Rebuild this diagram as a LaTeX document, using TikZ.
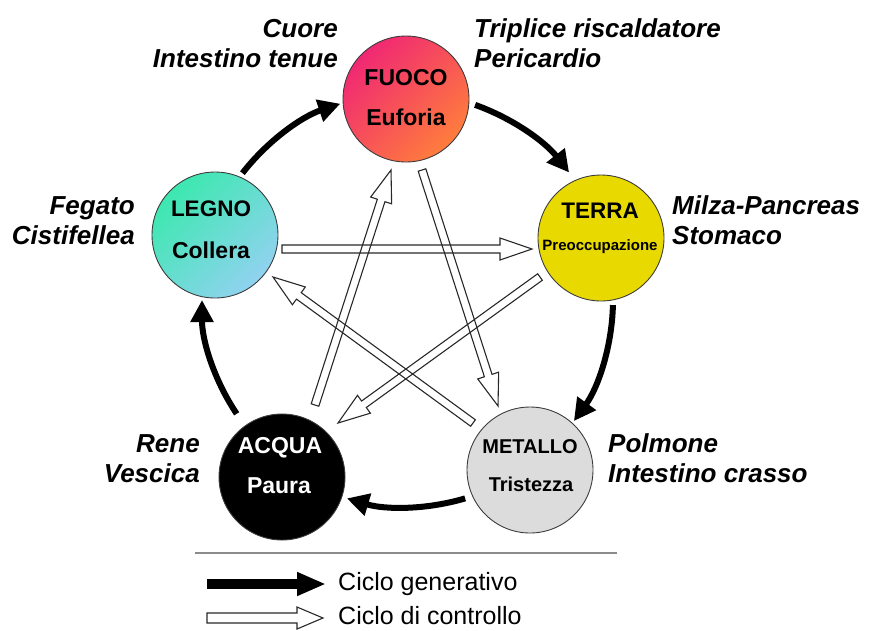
\documentclass[tikz,border=0pt]{standalone}
\usepackage{fontspec}
\setmainfont{Liberation Sans}
\usetikzlibrary{arrows.meta,calc}
\definecolor{fuocoA}{RGB}{240,40,115}
\definecolor{fuocoB}{RGB}{255,125,60}
\definecolor{legnoA}{RGB}{60,232,175}
\definecolor{legnoB}{RGB}{145,210,240}
\definecolor{terraC}{RGB}{232,218,0}
\definecolor{metalloC}{RGB}{220,220,220}
\definecolor{rimC}{RGB}{60,60,60}
\definecolor{ctrlC}{RGB}{40,40,40}
\definecolor{ruleC}{RGB}{140,140,140}
\newcommand\ctrlarrow[5]{%
  \draw[ctrl] ($(#1)!#3!90:(#2)$) -- ($(#2)!#5!(#1)!#3!-90:(#1)$) -- ($(#2)!#5!(#1)!#4!-90:(#1)$) -- (#2) -- ($(#2)!#5!(#1)!#4!90:(#1)$) -- ($(#2)!#5!(#1)!#3!90:(#1)$) -- ($(#1)!#3!-90:(#2)$) -- cycle;}
\begin{document}
\begin{tikzpicture}[x=1pt,y=1pt,
  elem/.style={circle, draw=rimC, line width=0.9pt, minimum size=126pt, inner sep=0pt},
  etext/.style={font=\bfseries\fontsize{#1}{#1}\selectfont, inner sep=0pt, text height=0.72em, text depth=0pt},
  lab/.style={font=\bfseries\itshape\fontsize{26}{30}\selectfont, inner sep=0pt},
  legtext/.style={font=\fontsize{25}{30}\selectfont, inner sep=0pt, anchor=base west},
  gen/.style={line width=6pt, -{Triangle[length=22pt,width=22pt]}},
  ctrl/.style={draw=ctrlC, line width=1.1pt, line join=miter}]
\useasboundingbox (0,0) rectangle (869,-630);

% elements
\node[elem, top color=fuocoA, bottom color=fuocoB, shading angle=45] (fuoco) at (406,-99) {};
\node[elem, top color=legnoA, bottom color=legnoB, shading angle=45] (legno) at (215,-235) {};
\node[elem, fill=terraC] (terra) at (601,-238) {};
\node[elem, fill=metalloC] (metallo) at (530,-470) {};
\node[elem, fill=black] (acqua) at (282,-477) {};

\node[etext=23] (t1) at (406,-82) {FUOCO};
\node[etext=23] (t2) at (406,-122) {Euforia};
\node[etext=22.5] (t3) at (211,-213) {LEGNO};
\node[etext=23] (t4) at (211,-255) {Collera};
\node[etext=22.5] (t5) at (600,-215) {TERRA};
\node[etext=15] (t6) at (600,-247) {Preoccupazione};
\node[etext=23, text=white] (t7) at (280,-450) {ACQUA};
\node[etext=23, text=white] (t8) at (279,-490) {Paura};
\node[etext=20] (t9) at (530,-450) {METALLO};
\node[etext=20] (t10) at (531,-488) {Tristezza};

% outer labels
\node[lab, anchor=base east] (l1) at (338,-37) {Cuore};
\node[lab, anchor=base east] (l2) at (338,-67) {Intestino tenue};
\node[lab, anchor=base west] (l3) at (474,-37) {Triplice riscaldatore};
\node[lab, anchor=base west] (l4) at (474,-67) {Pericardio};
\node[lab, anchor=base east] (l5) at (135,-214) {Fegato};
\node[lab, anchor=base east] (l6) at (135,-244) {Cistifellea};
\node[lab, anchor=base west] (l7) at (672,-214) {Milza-Pancreas};
\node[lab, anchor=base west] (l8) at (672,-244) {Stomaco};
\node[lab, anchor=base east] (l9) at (200,-452) {Rene};
\node[lab, anchor=base east] (l10) at (200,-482) {Vescica};
\node[lab, anchor=base west] (l11) at (608,-452) {Polmone};
\node[lab, anchor=base west] (l12) at (608,-482) {Intestino crasso};

% generative cycle
\coordinate (C) at (406,-300);
\draw[gen] ($(C)+(70.5:207)$) arc[start angle=70.5, end angle=38, radius=207];
\draw[gen] ($(C)+(-1.4:207)$) arc[start angle=-1.4, end angle=-35.8, radius=207];
\draw[gen] ($(C)+(-73.4:207)$) arc[start angle=-73.4, end angle=-106.6, radius=207];
\draw[gen] ($(C)+(-146.1:204)$) arc[start angle=-146.1, end angle=-180, radius=204];
\draw[gen] ($(C)+(142.2:207)$) arc[start angle=142.2, end angle=108.5, radius=207];

% control cycle
\coordinate (c1a) at (282,-249); \coordinate (c1b) at (532,-249);
\coordinate (c2a) at (540,-277); \coordinate (c2b) at (338,-423);
\coordinate (c3a) at (315,-405); \coordinate (c3b) at (391,-170);
\coordinate (c4a) at (422,-170); \coordinate (c4b) at (498,-406);
\coordinate (c5a) at (473,-423); \coordinate (c5b) at (273,-277);
\ctrlarrow{c1a}{c1b}{4pt}{11pt}{32pt}
\ctrlarrow{c2a}{c2b}{4pt}{11pt}{32pt}
\ctrlarrow{c3a}{c3b}{4pt}{11pt}{32pt}
\ctrlarrow{c4a}{c4b}{4pt}{11pt}{32pt}
\ctrlarrow{c5a}{c5b}{4pt}{11pt}{32pt}

% legend
\coordinate (r1) at (195,-553); \coordinate (r2) at (617,-553);
\draw[ruleC, line width=2pt] (r1) -- (r2);
\coordinate (g1) at (207,-584); \coordinate (g2) at (326,-584);
\draw[line width=10pt, -{Triangle[length=29pt,width=22pt]}] (g1) -- (g2);
\node[legtext] (lg1) at (338,-590) {Ciclo generativo};
\coordinate (k1) at (207,-618); \coordinate (k2) at (323,-618);
\ctrlarrow{k1}{k2}{5pt}{11pt}{26pt}
\node[legtext] (lg2) at (338,-624) {Ciclo di controllo};
\end{tikzpicture}
\end{document}
